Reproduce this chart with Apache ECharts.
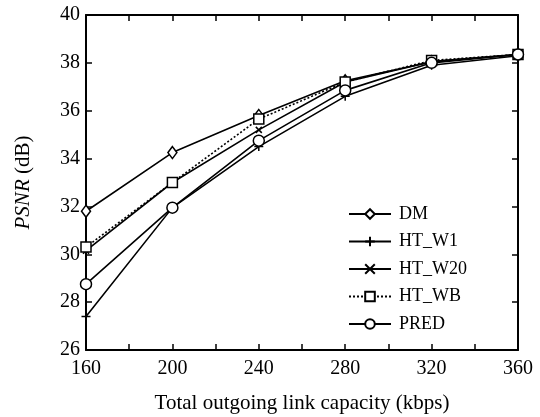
<!DOCTYPE html>
<html><head><meta charset="utf-8">
<script src="https://cdn.jsdelivr.net/npm/echarts@6/dist/echarts.min.js"></script>
<style>html,body{margin:0;padding:0;background:#fff}#c{width:540px;height:417px}</style>
</head><body><div id="c"></div>
<script>
const capacity = [160, 200, 240, 280, 320, 360];
const DM      = [31.8, 34.25, 35.8, 37.25, 38.05, 38.35];
const HT_W1   = [27.4, 31.95, 34.5, 36.6, 37.9, 38.3];
const HT_W20  = [30.15, 33.0, 35.2, 37.2, 38.05, 38.35];
const HT_WB   = [30.3, 33.0, 35.65, 37.2, 38.1, 38.35];
const PRED    = [28.75, 31.95, 34.75, 36.85, 38.0, 38.35];
const yTicks = [26, 28, 30, 32, 34, 36, 38, 40];
const xTickLabels = [160, 200, 240, 280, 320, 360];

const font = 'Liberation Serif';
const plusPath = 'path://M0,5L10,5M5,0L5,10';
const crossPath = 'path://M0,0L10,10M10,0L0,10';
const pair = a => capacity.map((x, i) => [x, a[i]]);
function mk(name, data, symbol, size, dashed) {
  return {
    name, type: 'line', data: pair(data), symbol, symbolSize: size,
    lineStyle: { color: '#000', width: 1.6, type: dashed ? [2, 2] : 'solid' },
    itemStyle: { color: '#fff', borderColor: '#000', borderWidth: 1.5 },
    emphasis: { disabled: true }, z: 3
  };
}
const chart = echarts.init(document.getElementById('c'));
const axisCommon = {
  axisLine: { show: true, lineStyle: { color: '#000', width: 2 } },
  axisTick: { show: true, inside: true, length: 6, lineStyle: { color: '#000', width: 1.5 } },
  splitLine: { show: false }
};
chart.setOption({
  animation: false,
  grid: { left: 86, right: 22, top: 15, bottom: 67, containLabel: false, outerBoundsMode: 'none' },
  xAxis: [
    Object.assign({ type: 'value', min: 160, max: 360, interval: 20, position: 'bottom',
      name: 'Total outgoing link capacity (kbps)', nameLocation: 'middle', nameGap: 43,
      nameTextStyle: { fontFamily: font, fontSize: 21, color: '#000' },
      axisLabel: { fontFamily: font, fontSize: 20, color: '#000', margin: 9,
        formatter: v => xTickLabels.includes(v) ? String(v) : '' } }, axisCommon),
    Object.assign({ type: 'value', min: 160, max: 360, interval: 20, position: 'top',
      axisLabel: { show: false } }, axisCommon)
  ],
  yAxis: [
    Object.assign({ type: 'value', min: 26, max: 40, interval: 2, position: 'left',
      name: '{i|PSNR} (dB)', nameLocation: 'middle', nameGap: 52,
      nameTextStyle: { fontFamily: font, fontSize: 21, color: '#000',
        rich: { i: { fontFamily: font, fontSize: 21, fontStyle: 'italic', color: '#000' } } },
      axisLabel: { fontFamily: font, fontSize: 20, color: '#000', margin: 6,
        formatter: v => yTicks.includes(v) ? String(v) : '' } }, axisCommon),
    Object.assign({ type: 'value', min: 26, max: 40, interval: 2, position: 'right',
      axisLabel: { show: false } }, axisCommon)
  ],
  legend: {
    orient: 'vertical', left: 343, top: 200, itemGap: 9.5, itemWidth: 42, itemHeight: 12,
    textStyle: { fontFamily: font, fontSize: 18, lineHeight: 18, color: '#000', padding: [0, 0, 0, 3] },
    data: ['DM', 'HT_W1', 'HT_W20', 'HT_WB', 'PRED']
  },
  series: [
    mk('DM', DM, 'diamond', [9, 12]),
    mk('HT_W1', HT_W1, plusPath, 9),
    mk('HT_W20', HT_W20, crossPath, 6),
    mk('HT_WB', HT_WB, 'rect', 10, true),
    mk('PRED', PRED, 'circle', 11)
  ]
});
</script></body></html>
